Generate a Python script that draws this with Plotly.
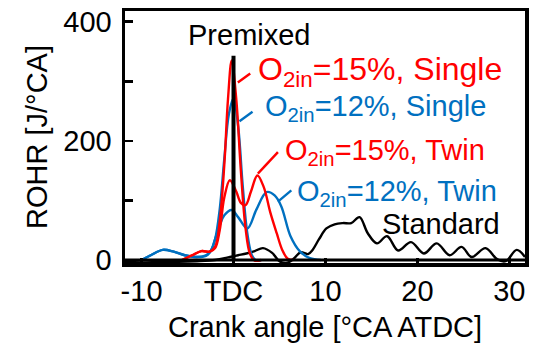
import plotly.graph_objects as go

# ---- data ----
std_x = [-11.8, -10, -8, -6, -4, -2, -1, -0.4, 0.5, 1.4, 2.3, 3.2, 4.2, 5.0, 5.8, 6.6, 7.3, 8.1, 8.6,
         9.3, 10.1, 11.0, 11.9, 12.8, 13.7, 14.6, 15.6, 16.7, 17.9, 19.3, 20.7, 22.1, 23.5, 24.8,
         25.9, 27.4, 28.7, 29.6, 30.8, 31.7]
std_y = [-3, -4, -3, -3, -2, 0, 3, 5, 8, 11, 15, 20, 12, -2, -5, 3, 13, 10, 17,
         35, 53, 60, 62, 62, 72, 45, 28, 40, 16, 30, 11, 28, 8, 22,
         5, 20, 1, -2, 17, 5]

b12s_x = [-10, -9, -7.7, -6.5, -5.3, -4, -3, -2.5, -2, -1.5, -1, -0.5, 0, 0.5, 1, 1.5, 2, 2.5, 3]
b12s_y = [0, 8, 17, 14, 8, 5, 8, 15, 35, 85, 170, 245, 271, 225, 125, 45, 8, -1, 0]

b12t_x = [-10, -9, -7.7, -6.5, -5.3, -4, -3, -2.5, -2, -1.5, -1, -0.2, 0.5, 1.5, 2.5, 3.6, 4.5,
          5.2, 6.2, 7.2, 8.3, 9.5]
b12t_y = [0, 8, 17, 14, 8, 5, 7, 14, 35, 58, 75, 84, 72, 53, 85, 114, 108, 90, 40, 15, 3, 0]

r15s_x = [-5.6, -4.5, -3.5, -2.6, -2, -1.5, -1, -0.6, -0.2, 0.3, 0.8, 1.3, 1.8, 2.3, 3]
r15s_y = [0, 8, 15, 14, 22, 65, 160, 270, 335, 270, 150, 55, 10, -1, 0]

r15t_x = [-5.6, -4.5, -3.5, -2.6, -2, -1.5, -1, -0.4, 0.3, 0.8, 1.3, 1.9, 2.6, 3.3, 4, 4.7,
          5.3, 5.9, 6.5]
r15t_y = [0, 8, 15, 14, 20, 50, 105, 134, 115, 96, 92, 115, 142, 122, 80, 45, 17, 2, 0]

x_tickvals = [-10, 0, 10, 20, 30]
x_ticktext = ["-10", "TDC", "10", "20", "30"]
y_tickvals = [0, 100, 200, 300, 400]
y_ticktext = ["0", "", "200", "", "400"]

RED = "#FF0000"
BLUE = "#0070C0"
FONT = "Liberation Sans, Arial, sans-serif"

fig = go.Figure()
for xs, ys, col in [(std_x, std_y, "black"), (b12t_x, b12t_y, BLUE), (b12s_x, b12s_y, BLUE),
                    (r15t_x, r15t_y, RED), (r15s_x, r15s_y, RED)]:
    fig.add_trace(go.Scatter(x=xs, y=ys, mode="lines", line=dict(color=col, width=2.4, shape="spline", smoothing=1),
                             showlegend=False, hoverinfo="skip"))

# TDC marker line
fig.add_shape(type="line", x0=0, x1=0, y0=0, y1=343, xref="x", yref="y", line=dict(color="black", width=4))
# zero line
fig.add_shape(type="line", x0=0, x1=1, xref="paper", y0=0, y1=0, yref="y", line=dict(color="black", width=3))

# leader lines
leaders = [((0.47, 298), (1.82, 313), RED), ((0.65, 233), (2.07, 249), BLUE),
           ((2.65, 145), (4.83, 181), RED), ((4.83, 98), (6.29, 117), BLUE)]
for (xa, ya), (xb, yb), col in leaders:
    fig.add_shape(type="line", x0=xa, y0=ya, x1=xb, y1=yb, xref="x", yref="y", line=dict(color=col, width=2.4))

labels = [("Premixed", 1.78, 377, "black", "center", 29),
          ("O<sub>2in</sub>=15%, Single", 2.44, 316, RED, "left", 32),
          ("O<sub>2in</sub>=12%, Single", 3.2, 255, BLUE, "left", 29),
          ("O<sub>2in</sub>=15%, Twin", 5.38, 181, RED, "left", 29),
          ("O<sub>2in</sub>=12%, Twin", 6.68, 113, BLUE, "left", 29),
          ("Standard", 15.93, 61, "black", "left", 29)]
for txt, x, y, col, anc, sz in labels:
    fig.add_annotation(x=x, y=y, xref="x", yref="y", text=txt, showarrow=False, xanchor=anc, yanchor="middle",
                       font=dict(color=col, size=sz, family=FONT))

# x-axis title as annotation (placed slightly lower than plotly's clamped title)
fig.add_annotation(x=0.5, y=-0.254, xref="paper", yref="paper", text="Crank angle [°CA ATDC]", showarrow=False,
                   xanchor="center", yanchor="middle", font=dict(color="black", size=29, family=FONT))

fig.update_layout(
    width=541, height=343,
    margin=dict(l=125, r=16, t=11, b=80, autoexpand=False),
    plot_bgcolor="white", paper_bgcolor="white",
    font=dict(family=FONT, size=29, color="black"),
)
fig.update_xaxes(range=[-11.8, 31.7], tickvals=x_tickvals, ticktext=x_ticktext, ticks="inside", ticklen=5,
                 tickwidth=2.5, tickcolor="black", showline=True, linewidth=3.5, linecolor="black", mirror=True,
                 showgrid=False, zeroline=False, automargin=False,
                 tickfont=dict(size=29))
fig.update_yaxes(range=[-5, 418], tickvals=y_tickvals, ticktext=y_ticktext, ticks="inside", ticklen=8,
                 tickwidth=2.5, tickcolor="black", showline=True, linewidth=3.5, linecolor="black", mirror=True,
                 showgrid=False, zeroline=False, automargin=False, ticklabelstandoff=4,
                 title=dict(text="ROHR [J/°CA]", font=dict(size=29), standoff=8),
                 tickfont=dict(size=29))

fig.write_html("out.html", config={"displayModeBar": False, "staticPlot": True},
               post_script="document.body.style.margin='0px';")
